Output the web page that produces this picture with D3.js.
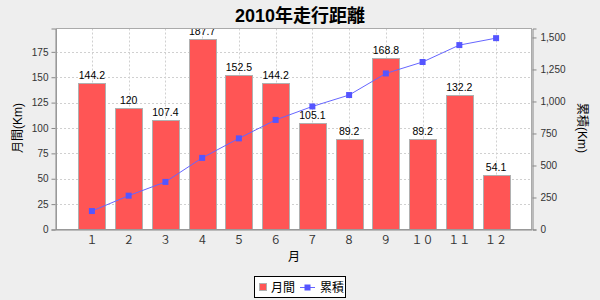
<!DOCTYPE html>
<html><head><meta charset="utf-8">
<script src="https://cdn.jsdelivr.net/npm/d3@7/dist/d3.min.js"></script>
<style>body{margin:0;background:#eeeeee;} svg{display:block;}</style>
</head><body><svg id="c" width="600" height="300"></svg>
<script>
const months = ["１","２","３","４","５","６","７","８","９","１０","１１","１２"];
const monthly = [144.2,120,107.4,187.7,152.5,144.2,105.1,89.2,168.8,89.2,132.2,54.1];
const cumulative = [144.2,264.2,371.6,559.3,711.8,856,961.1,1050.3,1219.1,1308.3,1440.5,1494.6];
const leftTicks = [0,25,50,75,100,125,150,175];
const rightTicks = [0,250,500,750,1000,1250,1500];
const title = "2010年走行距離";

const svg = d3.select("#c");
const L = 56, R = 532, T = 28.5, B = 229.5;
const font = "'Liberation Sans', Arial, 'Noto Sans CJK JP', sans-serif";

svg.append("rect").attr("width",600).attr("height",300).attr("fill","#eeeeee");
svg.append("text").attr("x",300).attr("y",22).attr("text-anchor","middle")
  .attr("font-family",font).attr("font-weight","bold").attr("font-size",18).text(title);

const x = d3.scaleBand().domain(months).range([L,R]).paddingInner(0.265).paddingOuter(0.61);
const yL = d3.scaleLinear().domain([0,198]).range([B,T]);
const yR = d3.scaleLinear().domain([0,1570]).range([B,T]);

svg.append("rect").attr("x",L).attr("y",T).attr("width",R-L).attr("height",B-T).attr("fill","#ffffff");

// grid
const g = svg.append("g");
g.selectAll(".hg").data(leftTicks.slice(1)).join("line")
  .attr("x1",L).attr("x2",R).attr("y1",d=>Math.round(yL(d))+0.5).attr("y2",d=>Math.round(yL(d))+0.5)
  .attr("stroke","#d0d0d0").attr("stroke-dasharray","2,2");
g.selectAll(".vg").data(months).join("line")
  .attr("y1",T).attr("y2",B).attr("x1",d=>Math.round(x(d)+x.bandwidth()/2)+0.5).attr("x2",d=>Math.round(x(d)+x.bandwidth()/2)+0.5)
  .attr("stroke","#d0d0d0").attr("stroke-dasharray","2,2");

svg.append("clipPath").attr("id","clip").append("rect").attr("x",L).attr("y",T).attr("width",R-L).attr("height",B-T);
const plot = svg.append("g").attr("clip-path","url(#clip)");

plot.selectAll(".bar").data(monthly).join("rect")
  .attr("x",(d,i)=>Math.round(x(months[i]))+0.5).attr("y",d=>Math.round(yL(d))+0.5)
  .attr("width",Math.round(x.bandwidth())).attr("height",d=>B-Math.round(yL(d))-0.5)
  .attr("fill","#ff5555").attr("stroke","#b0b0b0").attr("stroke-width",1);

plot.selectAll(".lbl").data(monthly).join("text")
  .attr("x",(d,i)=>x(months[i])+x.bandwidth()/2).attr("y",d=>yL(d)-4)
  .attr("text-anchor","middle").attr("font-family",font).attr("font-size",10.5).attr("fill","#000")
  .text(d=>d3.format("~g")(d));

const line = d3.line().x((d,i)=>x(months[i])+x.bandwidth()/2).y(d=>yR(d));
plot.append("path").datum(cumulative).attr("d",line).attr("fill","none").attr("stroke","#6666ff").attr("stroke-width",1);
plot.selectAll(".pt").data(cumulative).join("rect")
  .attr("x",(d,i)=>x(months[i])+x.bandwidth()/2-3).attr("y",d=>yR(d)-3).attr("width",6).attr("height",6)
  .attr("fill","#5555ff");

svg.append("rect").attr("x",L+0.5).attr("y",T).attr("width",R-L-1).attr("height",B-T)
  .attr("fill","none").attr("stroke","#aaaaaa");

// axes
const axL = svg.append("g").attr("transform",`translate(${L-0.5},0)`)
  .call(d3.axisLeft(yL).tickValues(leftTicks).tickSize(4).tickPadding(3));
const axR = svg.append("g").attr("transform",`translate(${R+0.5},0)`)
  .call(d3.axisRight(yR).tickValues(rightTicks).tickSize(4).tickPadding(4).tickFormat(d3.format(",")));
const axB = svg.append("g").attr("transform",`translate(0,${B+0.5})`)
  .call(d3.axisBottom(x).tickSize(0).tickPadding(6));
[axL,axR,axB].forEach(a=>{
  a.selectAll("path").attr("stroke","#888888");
  a.selectAll("line").attr("stroke","#888888");
  a.selectAll("text").attr("font-family",font).attr("font-size",10).attr("fill","#333");
});
axB.selectAll("path").attr("d",`M${L},0H${R}`);
axB.selectAll("text").attr("font-family","'Noto Sans CJK JP', sans-serif").attr("font-size",11);

svg.append("text").attr("transform","translate(22,128) rotate(-90)").attr("text-anchor","middle")
  .attr("font-family",font).attr("font-size",12).text("月間(Km)");
svg.append("text").attr("transform","translate(578,128) rotate(90)").attr("text-anchor","middle")
  .attr("font-family",font).attr("font-size",12).text("累積(Km)");
svg.append("text").attr("x",294).attr("y",261).attr("text-anchor","middle")
  .attr("font-family",font).attr("font-size",12).text("月");

// legend
const lg = svg.append("g");
lg.append("rect").attr("x",254.5).attr("y",276.5).attr("width",91).attr("height",21).attr("fill","#ffffff").attr("stroke","#000");
lg.append("rect").attr("x",259.5).attr("y",283.5).attr("width",7).attr("height",7).attr("fill","#ff5555").attr("stroke","#b0b0b0");
lg.append("text").attr("x",271).attr("y",292).attr("font-family",font).attr("font-size",12).text("月間");
lg.append("line").attr("x1",300).attr("x2",315).attr("y1",287.5).attr("y2",287.5).attr("stroke","#6666ff");
lg.append("rect").attr("x",304.5).attr("y",284.5).attr("width",6).attr("height",6).attr("fill","#5555ff");
lg.append("text").attr("x",320).attr("y",292).attr("font-family",font).attr("font-size",12).text("累積");
</script></body></html>
